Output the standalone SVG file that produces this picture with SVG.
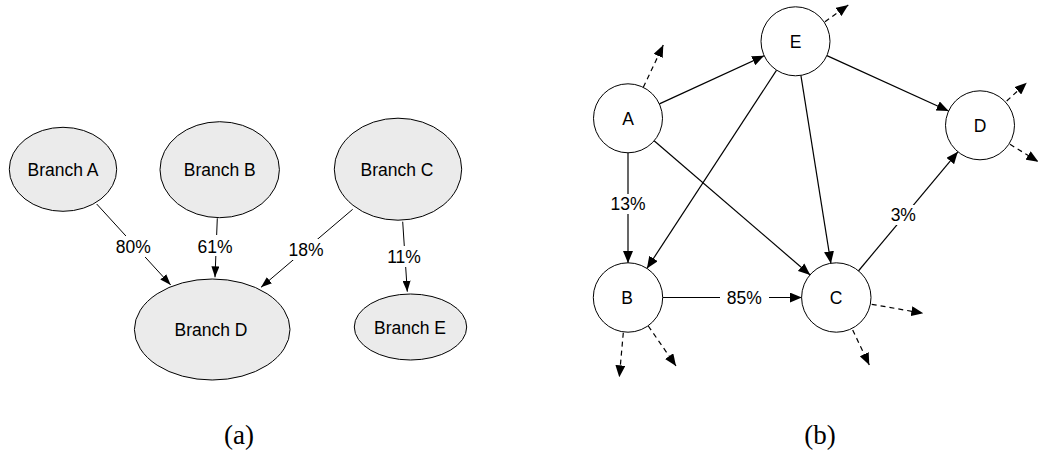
<svg xmlns="http://www.w3.org/2000/svg" width="1038" height="453" viewBox="0 0 1038 453">
<style>
.bg{fill:#ffffff}
.br{fill:#ebebeb;stroke:#000;stroke-width:1}
.nd{fill:#ffffff;stroke:#000;stroke-width:1}
.t{font-family:"Liberation Sans",Arial,sans-serif;font-size:17.5px;fill:#000;text-anchor:middle}
.e{stroke:#000;stroke-width:1.2;fill:none}
.es{stroke:#000;stroke-width:1;fill:none}
.d{stroke:#000;stroke-width:1.2;fill:none;stroke-dasharray:5 4}
.lb{fill:#ffffff}
.cap{font-family:"Liberation Serif","Times New Roman",serif;font-size:27px;fill:#000;text-anchor:middle}
</style>
<defs>
<marker id="ah" markerUnits="userSpaceOnUse" markerWidth="12" markerHeight="10" refX="12" refY="5" orient="auto">
<path d="M0,0 L12,5 L0,10 z" fill="#000"/>
</marker>
<marker id="ahs" markerUnits="userSpaceOnUse" markerWidth="11" markerHeight="8" refX="11" refY="4" orient="auto">
<path d="M0,0 L11,4 L0,8 z" fill="#000"/>
</marker>
</defs>
<rect class="bg" x="0" y="0" width="1038" height="453"/>

<g id="connectors">
<!-- left panel -->
<line class="es" x1="96.7" y1="204" x2="170.7" y2="285" marker-end="url(#ahs)"/>
<line class="es" x1="217.3" y1="218.3" x2="215" y2="277.3" marker-end="url(#ahs)"/>
<line class="es" x1="352.7" y1="209.3" x2="261" y2="287.3" marker-end="url(#ahs)"/>
<line class="es" x1="402.7" y1="221.7" x2="407.3" y2="291.7" marker-end="url(#ahs)"/>
<rect class="lb" x="114" y="236" width="39" height="21"/>
<text class="t" x="133.3" y="253">80%</text>
<rect class="lb" x="196" y="235" width="39" height="21"/>
<text class="t" x="215" y="252.5">61%</text>
<rect class="lb" x="287" y="239" width="39" height="21"/>
<text class="t" x="306" y="255.5">18%</text>
<rect class="lb" x="386" y="246" width="37" height="21"/>
<text class="t" x="404" y="262.5">11%</text>

<!-- right panel -->
<line class="e" x1="659.4" y1="103.9" x2="764.1" y2="55.7" marker-end="url(#ah)"/>
<line class="e" x1="826.9" y1="55.6" x2="948.6" y2="111" marker-end="url(#ah)"/>
<line class="e" x1="628" y1="152.8" x2="628" y2="263" marker-end="url(#ah)"/>
<line class="e" x1="776.6" y1="70.2" x2="646.9" y2="268.5" marker-end="url(#ah)"/>
<line class="e" x1="654.1" y1="140.8" x2="810.2" y2="275" marker-end="url(#ah)"/>
<line class="e" x1="800.9" y1="75.4" x2="830.9" y2="263.4" marker-end="url(#ah)"/>
<line class="e" x1="858.4" y1="271" x2="957.9" y2="151.8" marker-end="url(#ah)"/>
<line class="e" x1="662.5" y1="297.5" x2="801.8" y2="297.5" marker-end="url(#ah)"/>
<rect class="lb" x="609" y="194" width="38" height="20"/>
<text class="t" x="628" y="210">13%</text>
<rect class="lb" x="889" y="205" width="29" height="20"/>
<text class="t" x="903.3" y="221">3%</text>
<rect class="lb" x="720" y="288" width="49" height="20"/>
<text class="t" x="744.3" y="304">85%</text>

<line class="d" x1="643.3" y1="87.3" x2="663.3" y2="45" marker-end="url(#ah)"/>
<line class="d" x1="825" y1="21.7" x2="848.3" y2="5" marker-end="url(#ah)"/>
<line class="d" x1="1006.7" y1="101" x2="1026.7" y2="82.7" marker-end="url(#ah)"/>
<line class="d" x1="1010" y1="144.3" x2="1038.3" y2="161.7" marker-end="url(#ah)"/>
<line class="d" x1="871.7" y1="304.3" x2="923.3" y2="313.3" marker-end="url(#ah)"/>
<line class="d" x1="852.7" y1="330" x2="869.3" y2="365" marker-end="url(#ah)"/>
<line class="d" x1="623.3" y1="332.7" x2="619.3" y2="377.3" marker-end="url(#ah)"/>
<line class="d" x1="648.3" y1="326" x2="676" y2="366" marker-end="url(#ah)"/>
</g>

<g id="branchA"><ellipse class="br" cx="63" cy="169.3" rx="53.7" ry="42"/><text class="t" x="63" y="175.5">Branch A</text></g>
<g id="branchB"><ellipse class="br" cx="219.7" cy="169.7" rx="59.7" ry="48"/><text class="t" x="219.7" y="175.5">Branch B</text></g>
<g id="branchC"><ellipse class="br" cx="398" cy="169.2" rx="63.7" ry="51"/><text class="t" x="397" y="175.5">Branch C</text></g>
<g id="branchD"><ellipse class="br" cx="212.2" cy="329.5" rx="77.8" ry="50.5"/><text class="t" x="211" y="335.5">Branch D</text></g>
<g id="branchE"><ellipse class="br" cx="410.5" cy="327" rx="56.2" ry="33"/><text class="t" x="410" y="333.5">Branch E</text></g>

<g id="nodeA"><circle class="nd" cx="628" cy="118.3" r="34.5"/><text class="t" x="628" y="124.5">A</text></g>
<g id="nodeE"><circle class="nd" cx="795.5" cy="41.3" r="34.5"/><text class="t" x="795.5" y="47.5">E</text></g>
<g id="nodeD"><circle class="nd" cx="980" cy="125.3" r="34.5"/><text class="t" x="980" y="131.5">D</text></g>
<g id="nodeB"><circle class="nd" cx="628" cy="297.5" r="34.7"/><text class="t" x="627" y="303.7">B</text></g>
<g id="nodeC"><circle class="nd" cx="836.3" cy="297.5" r="34.7"/><text class="t" x="836" y="303.7">C</text></g>

<text class="cap" x="239" y="443.5">(a)</text>
<text class="cap" x="820" y="443.5">(b)</text>
</svg>
